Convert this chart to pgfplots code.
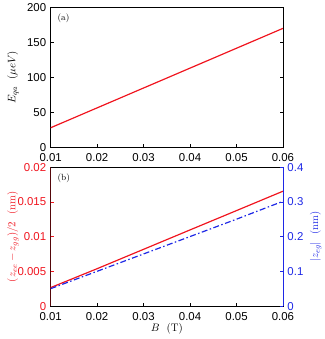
\documentclass[border=0pt]{standalone}
\usepackage{pgfplots}
\pgfplotsset{compat=1.18}
\usepackage{fontspec}
\newfontfamily\arial{Liberation Sans}
\definecolor{qred}{HTML}{F0141E}
\definecolor{qblue}{HTML}{1E28E6}

\pgfplotsset{
  panel/.style={
    width=234pt, height=141pt, scale only axis,
    xmin=0.01, xmax=0.06,
    xtick={0.01,0.02,0.03,0.04,0.05,0.06},
    scaled x ticks=false,
    xticklabel style={yshift=-3pt, /pgf/number format/fixed zerofill, /pgf/number format/precision=2},
    yticklabel style={xshift=-1pt},
    tick align=inside, major tick length=3.5pt,
    xtick pos=bottom,
    /pgf/number format/assume math mode=true,
    /pgf/number format/fixed,
    /pgf/number format/precision=3,
    ticklabel style={font=\fontsize{11.5}{13}\arial},
    label style={font=\fontsize{11}{13}\selectfont},
    axis line style={line width=0.6pt},
    every tick/.style={line width=0.6pt},
  },
}

\begin{document}
\begin{tikzpicture}
% (a)
\begin{axis}[panel, at={(0,160pt)},
  ymin=0, ymax=200, ytick={0,50,100,150,200},
  ytick pos=both,
  ylabel={$E_{qa}\ \ (\mu eV)$},
  ylabel style={at={(axis description cs:-0.162,0.5)}, anchor=center},
]
\addplot[qred, line width=1.2pt] coordinates {
  (0.01,28) (0.02,56.4) (0.03,84.8) (0.04,113.2) (0.05,141.6) (0.06,170)};
\node[anchor=west, font=\fontsize{9}{10}\selectfont] at (axis description cs:0.015,0.92) {(a)};
\end{axis}

% (b) left scale
\begin{axis}[panel, at={(0,0)}, height=140pt,
  ymin=0, ymax=0.02, ytick={0,0.005,0.01,0.015,0.02},
  ytick pos=left,
  y tick style={qred},
  yticklabel style={text=qred},
  scaled y ticks=false,
  ylabel={\textcolor{qred}{$(z_{ee}-z_{gg})/2\ \ (\mathrm{nm})$}},
  ylabel style={at={(axis description cs:-0.162,0.5)}, anchor=center},
  xlabel={$B\ \ (\mathrm{T})$},
  xlabel style={at={(axis description cs:0.5,-0.164)}, anchor=center},
]
\addplot[qred, line width=1.2pt] coordinates {
  (0.01,0.00268) (0.02,0.0054) (0.03,0.00819) (0.04,0.01098) (0.05,0.01376) (0.06,0.01655)};
\draw[qred, line width=0.8pt] (rel axis cs:0,0) -- (rel axis cs:0,1);
\node[anchor=west, font=\fontsize{9}{10}\selectfont] at (axis description cs:0.015,0.92) {(b)};
\end{axis}

% (b) right scale
\begin{axis}[panel, at={(0,0)}, height=140pt,
  axis x line=none,
  axis y line*=right,
  ymin=0, ymax=0.4, ytick={0,0.1,0.2,0.3,0.4},
  y axis line style={qblue, line width=0.8pt},
  y tick style={qblue},
  yticklabel style={text=qblue, xshift=2pt},
  ylabel={\textcolor{qblue}{$|z_{eg}|\ \ (\mathrm{nm})$}},
  ylabel style={at={(axis description cs:1.141,0.5)}, anchor=center, rotate=0},
]
\addplot[qblue, line width=1.2pt, dash pattern=on 6pt off 2.5pt on 1.5pt off 2.5pt] coordinates {
  (0.01,0.0505) (0.02,0.1005) (0.03,0.1505) (0.04,0.2005) (0.05,0.2505) (0.06,0.302)};
\end{axis}

\path[use as bounding box] (-51pt,-33pt) rectangle (273pt,306pt);
\end{tikzpicture}
\end{document}
